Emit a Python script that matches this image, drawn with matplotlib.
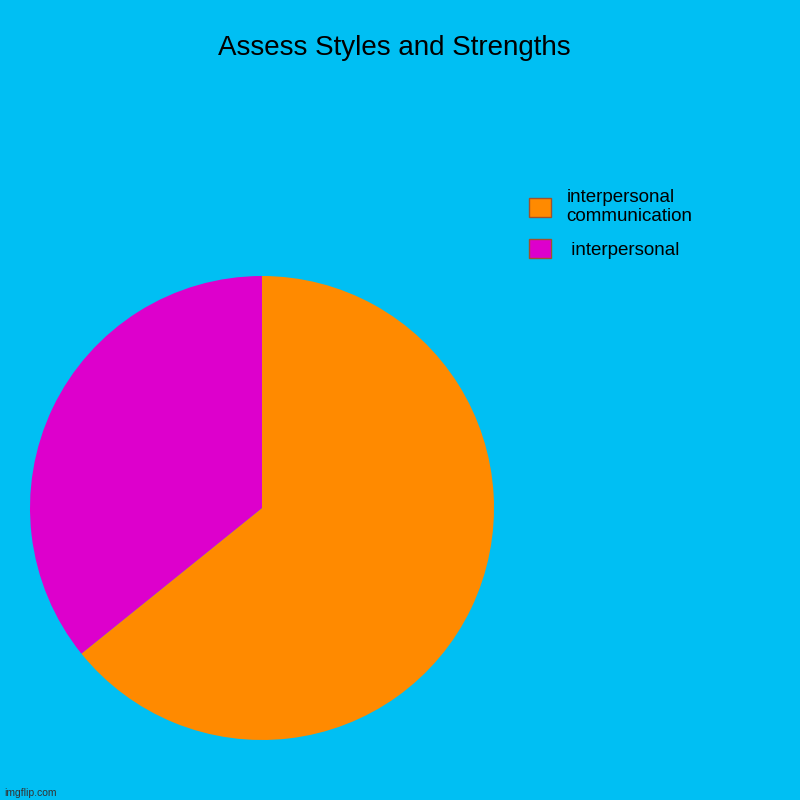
import matplotlib
matplotlib.use("Agg")
import matplotlib.pyplot as plt
from matplotlib.patches import Patch

labels = ["interpersonal\ncommunication", " interpersonal"]
values = [64.2, 35.8]
colors = ["#FF8A00", "#DD00CC"]
bg = "#00BFF3"

fig = plt.figure(figsize=(8, 8), dpi=100, facecolor=bg)
ax = fig.add_axes([0.0375, 0.075, 0.58, 0.58])
ax.set_facecolor(bg)
ax.pie(values, colors=colors, startangle=90, counterclock=False, radius=1.0,
       wedgeprops=dict(linewidth=0))
ax.set_xlim(-1, 1); ax.set_ylim(-1, 1); ax.set_aspect("equal")
ax.axis("off")

fig.text(0.493, 0.94, "Assess Styles and Strengths", ha="center", va="center",
         fontsize=20, family="Liberation Sans")
handles = [Patch(facecolor=c, edgecolor="#a0522d", linewidth=1) for c in colors]
fig.legend(handles, labels, loc="upper left", bbox_to_anchor=(0.64, 0.785),
           frameon=False, fontsize=13.5, handlelength=1.2, handleheight=1.2,
           prop={"family": "Liberation Sans", "size": 13.5}, labelspacing=0.7)
fig.text(0.005, 0.005, "imgflip.com", fontsize=7.5, color="#333333",
         family="Liberation Sans")
fig.savefig("out.png", dpi=100, facecolor=bg)
